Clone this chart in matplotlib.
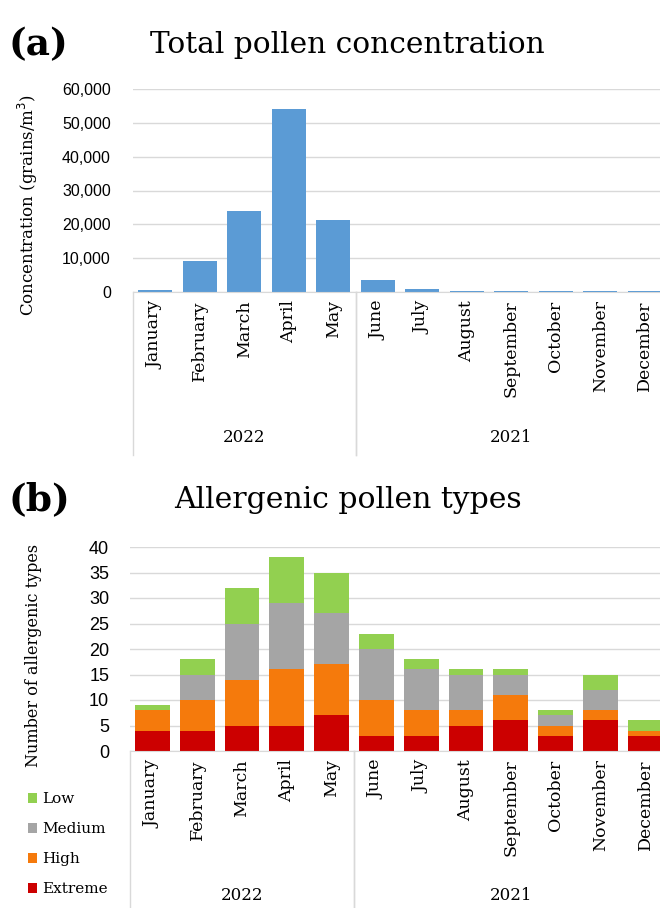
import numpy as np
import matplotlib.pyplot as plt

months = ['January', 'February', 'March', 'April', 'May', 'June', 'July',
          'August', 'September', 'October', 'November', 'December']
years = ['2022', '2021']
year_groups = [(0, 4), (5, 11)]   # first/last month index of each year

# (a) total pollen concentration, grains/m3
concentration = [500, 9300, 23900, 54000, 21300, 3400, 900, 400, 400, 400, 400, 400]

# (b) number of allergenic types by risk level
extreme = [4, 4, 5, 5, 7, 3, 3, 5, 6, 3, 6, 3]
high    = [4, 6, 9, 11, 10, 7, 5, 3, 5, 2, 2, 1]
medium  = [0, 5, 11, 13, 10, 10, 8, 7, 4, 2, 4, 0]
low     = [1, 3, 7, 9, 8, 3, 2, 1, 1, 1, 3, 2]

levels = ['Extreme', 'High', 'Medium', 'Low']
level_colors = ['#CC0000', '#F57A0C', '#A5A5A5', '#92D050']

W, H = 660, 908
SERIF = 'DejaVu Serif'
GRID = '#D9D9D9'

fig = plt.figure(figsize=(W / 100, H / 100), dpi=100)


def px_axes(left, top, right, bottom):
    return fig.add_axes([left / W, 1 - bottom / H, (right - left) / W, (bottom - top) / H])


def category_axis(ax, line_depth, year_y, ysize, ypad):
    x = np.arange(len(months))
    ax.set_xticks(x)
    ax.set_xticklabels(months, rotation=90, family=SERIF, fontsize=12.5, va='top')
    ax.tick_params(axis='x', length=0, pad=6)
    ax.tick_params(axis='y', length=0, labelsize=ysize, pad=ypad)
    for lab in ax.get_yticklabels():
        lab.set_family('Liberation Sans')
    for s in ['top', 'right', 'left']:
        ax.spines[s].set_visible(False)
    ax.spines['bottom'].set_color(GRID)
    ax.grid(axis='y', color=GRID, lw=1)
    ax.set_axisbelow(True)
    tr = ax.get_xaxis_transform()
    for name, (a, b) in zip(years, year_groups):
        ax.text((a + b) / 2, year_y, name, transform=tr, ha='center', va='center',
                family=SERIF, fontsize=12)
        for xb in (a - 0.5, b + 0.5):
            ax.plot([xb, xb], [0, line_depth], transform=tr, color=GRID, lw=1, clip_on=False)


# ---- (a)
ax1 = px_axes(133, 89, 660, 292)
x = np.arange(len(months))
ax1.bar(x, concentration, width=0.76, color='#5B9BD5')
ax1.set_ylim(0, 60000)
ax1.set_yticks(np.arange(0, 60001, 10000))
ax1.set_yticklabels([f'{v:,}' for v in range(0, 60001, 10000)])
ax1.set_xlim(-0.5, -0.5 + 527 / 44.5)
category_axis(ax1, -163 / 203, -145 / 203, 11.5, 16)
ax1.set_ylabel('Concentration (grains/m$^3$)', family=SERIF, fontsize=12)
ax1.yaxis.set_label_coords((40 - 133) / 527, (292 - 205) / 203)
fig.text(8 / W, 1 - 45 / H, '(a)', family=SERIF, fontsize=27, fontweight='bold', va='center')
fig.text(347 / W, 1 - 45 / H, 'Total pollen concentration', family=SERIF, fontsize=21.3,
         ha='center', va='center')

# ---- (b)
ax2 = px_axes(130, 547, 660, 751)
bottom = np.zeros(len(months))
for name, vals, col in zip(levels, [extreme, high, medium, low], level_colors):
    ax2.bar(x, vals, bottom=bottom, width=0.78, color=col, label=name)
    bottom += np.array(vals)
ax2.set_ylim(0, 40)
ax2.set_yticks(np.arange(0, 41, 5))
ax2.set_xlim(-0.5, -0.5 + 530 / 44.8)
category_axis(ax2, -157 / 204, -144 / 204, 13, 15)
ax2.set_ylabel('Number of allergenic types', family=SERIF, fontsize=11.5)
ax2.yaxis.set_label_coords((42 - 130) / 530, (751 - 655) / 204)
fig.text(8 / W, 1 - 500 / H, '(b)', family=SERIF, fontsize=27, fontweight='bold', va='center')
fig.text(348 / W, 1 - 500 / H, 'Allergenic pollen types', family=SERIF, fontsize=21.5,
         ha='center', va='center')

handles, labels = ax2.get_legend_handles_labels()
fig.legend(handles[::-1], labels[::-1], loc='upper left', bbox_to_anchor=(22 / W, 1 - 786 / H),
           frameon=False, prop={'family': SERIF, 'size': 11}, handlelength=0.6,
           handleheight=0.6, handletextpad=0.3, labelspacing=1.05, borderaxespad=0)

fig.savefig('out.png', dpi=100)
